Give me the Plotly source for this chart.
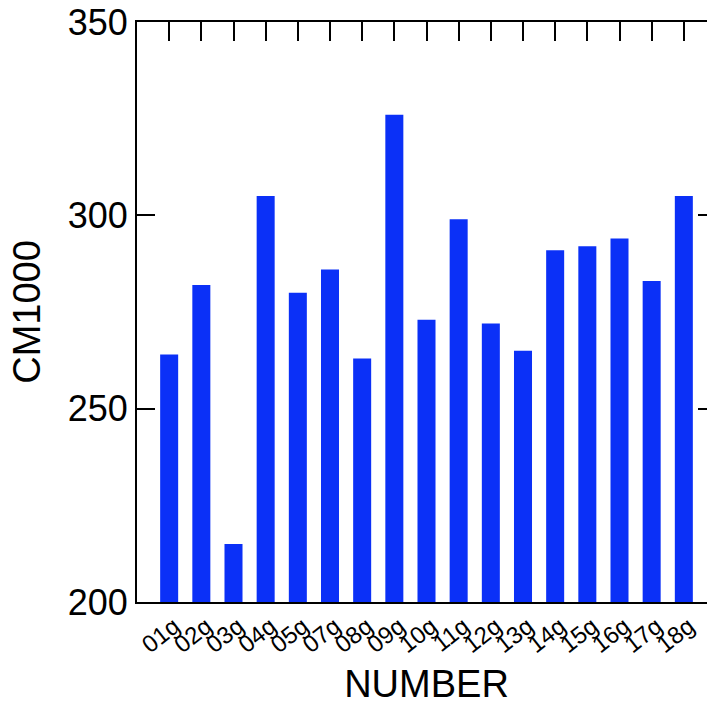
import plotly.graph_objects as go

categories = ["01g", "02g", "03g", "04g", "05g", "07g", "08g", "09g", "10g",
              "11g", "12g", "13g", "14g", "15g", "16g", "17g", "18g"]
values = [264, 282, 215, 305, 280, 286, 263, 326, 273,
          299, 272, 265, 291, 292, 294, 283, 305]
y_ticks = [200, 250, 300, 350]

BLUE = "#0b30f7"
FONT = "Liberation Sans, Arial, sans-serif"
n = len(categories)
xr = [-1, n]

fig = go.Figure()
fig.add_trace(go.Bar(x=categories, y=values, marker_color=BLUE,
                     marker_line_width=0, showlegend=False, hoverinfo="skip"))
# invisible trace so that the top tick axis is drawn
fig.add_trace(go.Scatter(x=list(range(n)), y=values, xaxis="x2", yaxis="y",
                         mode="markers", marker=dict(opacity=0),
                         showlegend=False, hoverinfo="skip"))

fig.update_layout(
    width=716, height=705,
    margin=dict(l=137, r=0, t=22, b=103),
    paper_bgcolor="white", plot_bgcolor="white",
    bargap=0.44,
    font=dict(family=FONT, color="black"),
    xaxis=dict(
        type="category", range=xr, showgrid=False, automargin=False,
        showline=True, linecolor="black", linewidth=2, mirror=True,
        ticks="", tickangle=-38, tickfont=dict(size=24, family=FONT),
        ticklabelstandoff=-1, ticklabelshift=5,
        title=dict(text="NUMBER", font=dict(size=38, family=FONT)),
    ),
    xaxis2=dict(
        overlaying="x", side="top", anchor="y", type="linear", range=xr,
        tickvals=list(range(n)), ticks="inside", ticklen=19, tickwidth=2,
        tickcolor="black", showticklabels=False, showline=False, showgrid=False,
        zeroline=False, automargin=False,
    ),
    yaxis=dict(
        range=[200, 350], tickvals=y_ticks, showgrid=False, zeroline=False,
        showline=True, linecolor="black", linewidth=2, automargin=False,
        mirror="ticks", ticklabeloverflow="allow",
        ticks="inside", ticklen=18, tickwidth=2, tickcolor="black",
        tickfont=dict(size=36, family=FONT),
        title=dict(text="CM1000", font=dict(size=38, family=FONT)),
    ),
)

fig.write_html(
    "out.html",
    config={"displayModeBar": False},
    post_script="document.body.style.margin='0';document.body.style.overflow='hidden';",
)
